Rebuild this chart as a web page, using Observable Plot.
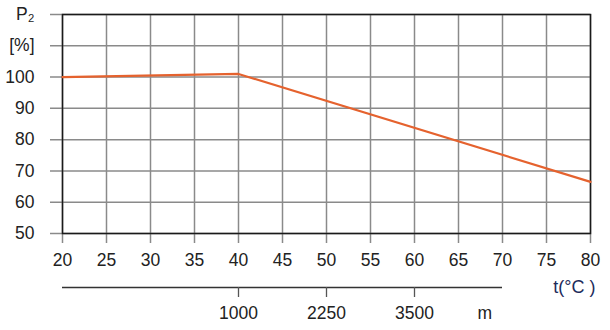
<!DOCTYPE html>
<html><head><meta charset="utf-8">
<script src="https://cdn.jsdelivr.net/npm/d3@7"></script>
<script src="https://cdn.jsdelivr.net/npm/@observablehq/plot@0.6"></script>
<style>body{margin:0;background:#fff}</style>
</head><body><div id="chart"></div>
<script>
// Derating curve: power P2 [%] vs ambient temperature t (°C)
const temperature = [20, 40, 80];
const power = [100, 101, 66.5];

const xTicks = [20, 25, 30, 35, 40, 45, 50, 55, 60, 65, 70, 75, 80];
const yTicks = [50, 60, 70, 80, 90, 100, 110, 120];
const yTickLabels = ["50", "60", "70", "80", "90", "100", "[%]", "P₂"];

// Secondary altitude axis (m), aligned with temperature positions
const altitudeTicks = [1000, 2250, 3500];
const altitudeAtTemp = [40, 50, 60];
const altitudeAxisExtent = [20, 70];
const altitudeUnit = ["m"];
const altitudeUnitAt = [68];
const xUnit = ["t(°C )"];

const gridColor = "#8a8a8a";
const textColor = "#222";

const chart = Plot.plot({
  width: 610,
  height: 330,
  marginLeft: 62,
  marginRight: 20,
  marginTop: 14,
  marginBottom: 97,
  style: {fontFamily: "Liberation Sans, Arial, sans-serif", fontSize: "17.5px", color: textColor, background: "#fff"},
  x: {domain: [20, 80], ticks: xTicks, tickSize: 0, tickPadding: 20, label: null},
  y: {domain: [50, 120], ticks: yTicks, tickSize: 0, tickPadding: 28, label: null,
      tickFormat: d => yTickLabels[yTicks.indexOf(d)]},
  marks: [
    Plot.ruleX(xTicks, {stroke: gridColor, strokeWidth: 1.5, insetBottom: -10}),
    Plot.ruleY(yTicks, {stroke: gridColor, strokeWidth: 1.5, insetLeft: -12}),
    Plot.frame({stroke: "#1a1a1a", strokeWidth: 1.5}),
    Plot.line(temperature, {x: d => d, y: (d, i) => power[i], stroke: "#e5622e", strokeWidth: 2.2}),
    // altitude axis
    Plot.ruleY([50], {x1: altitudeAxisExtent[0], x2: altitudeAxisExtent[1], dy: 54, stroke: "#333", strokeWidth: 1.3}),
    Plot.ruleX(altitudeAtTemp, {x: d => d, y1: 50, y2: 50, insetBottom: -10, dy: 54, stroke: "#555", strokeWidth: 1.3}),
    Plot.text(altitudeAtTemp, {x: d => d, y: 50, text: (d, i) => String(altitudeTicks[i]), dy: 80, fill: textColor}),
    Plot.text(altitudeUnit, {x: altitudeUnitAt, y: 50, text: d => d, dy: 80, fill: textColor}),
    Plot.text(xUnit, {x: 80, y: 50, text: d => d, dy: 54, dx: 5, textAnchor: "end", fill: "#1d2b5b", fontSize: 18})
  ]
});
document.getElementById("chart").append(chart);
</script>
</body></html>
